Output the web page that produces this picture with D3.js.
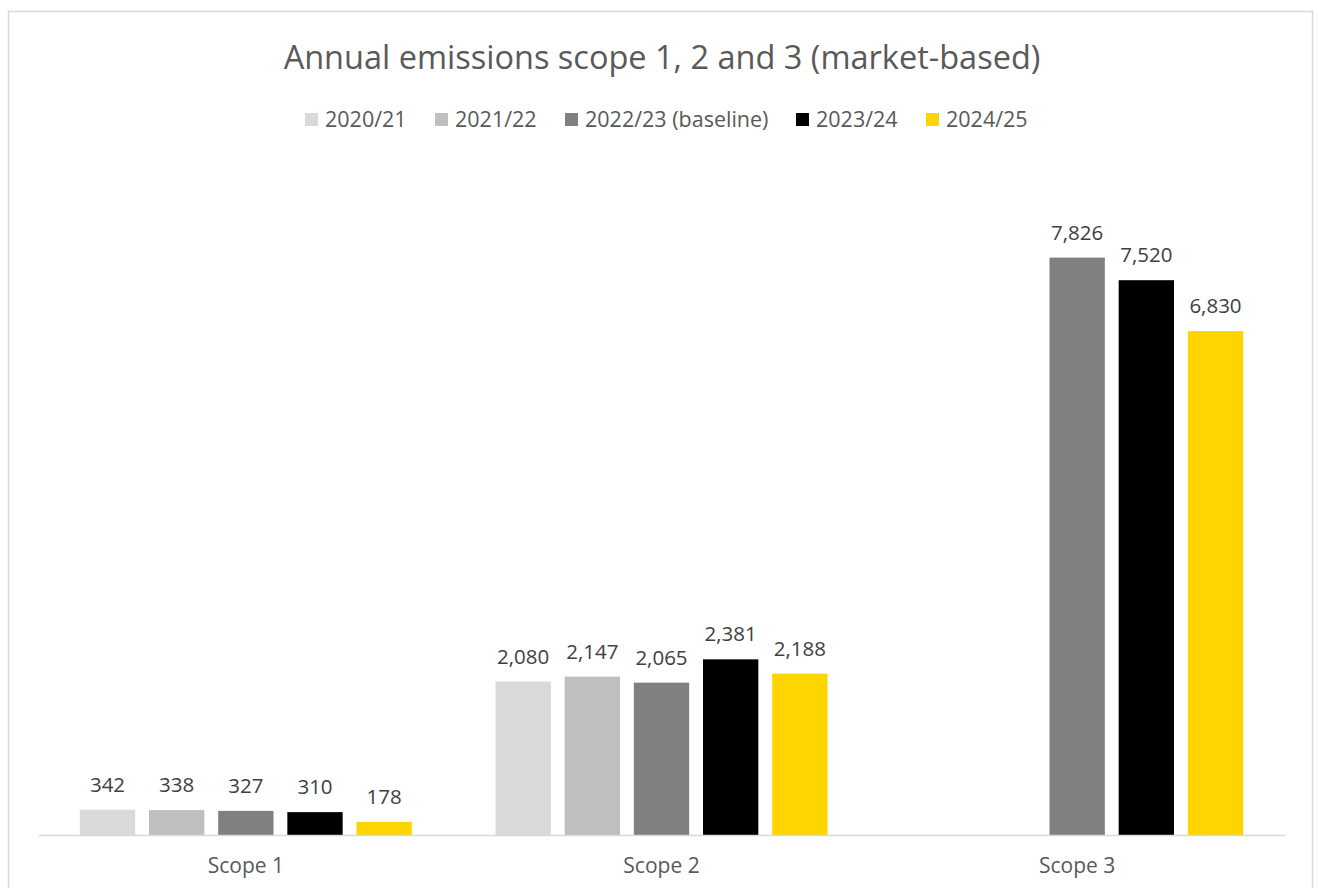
<!DOCTYPE html>
<html>
<head>
<meta charset="utf-8">
<script src="https://cdn.jsdelivr.net/npm/d3@7"></script>
<style>
  body { margin: 0; background: #fff; }
  text { font-family: "Open Sans", "Liberation Sans", sans-serif; }
</style>
</head>
<body>
<div id="fig"></div>
<script>
var categories = ["Scope 1", "Scope 2", "Scope 3"];
var years = ["2020/21", "2021/22", "2022/23 (baseline)", "2023/24", "2024/25"];
var colors = ["#d9d9d9", "#bfbfbf", "#808080", "#000000", "#ffd500"];
// values per year, in category order; null = no bar
var v2020 = [342, 2080, null];
var v2021 = [338, 2147, null];
var v2022 = [327, 2065, 7826];
var v2023 = [310, 2381, 7520];
var v2024 = [178, 2188, 6830];
var series = [v2020, v2021, v2022, v2023, v2024];

var width = 1318, height = 888;
var plotLeft = 38, plotRight = 1285, base = 835, plotTop = 171;

var svg = d3.select("#fig").append("svg")
  .attr("width", width)
  .attr("height", height);

// chart frame
svg.append("rect")
  .attr("x", 8.5).attr("y", 11.5)
  .attr("width", 1304).attr("height", 900)
  .attr("fill", "none")
  .attr("stroke", "#d9d9d9")
  .attr("stroke-width", 1.5);

svg.append("text")
  .attr("x", 662).attr("y", 69)
  .attr("text-anchor", "middle")
  .attr("font-size", 32.5)
  .attr("fill", "#595959")
  .text("Annual emissions scope 1, 2 and 3 (market-based)");

// legend
var legendX = [305, 435, 565, 796, 926];
var leg = svg.append("g").selectAll("g")
  .data(years)
  .enter().append("g")
    .attr("transform", function(d, i) { return "translate(" + legendX[i] + ",113)"; });
leg.append("rect")
  .attr("width", 13).attr("height", 13)
  .attr("fill", function(d, i) { return colors[i]; });
leg.append("text")
  .attr("x", 20).attr("y", 14)
  .attr("font-size", 21.5)
  .attr("fill", "#595959")
  .text(function(d) { return d; });

var x0 = d3.scaleBand().domain(categories).range([plotLeft, plotRight]).paddingInner(0).paddingOuter(0);
var groupW = 332;
var x1 = d3.scaleBand().domain(d3.range(years.length))
  .range([(x0.bandwidth() - groupW) / 2, (x0.bandwidth() + groupW) / 2])
  .paddingInner(0.2);
var y = d3.scaleLinear().domain([0, 9000]).range([base, plotTop]);

var bars = [];
series.forEach(function(vals, si) {
  vals.forEach(function(v, ci) {
    if (v != null) bars.push({s: si, c: categories[ci], v: v});
  });
});

var g = svg.append("g");
g.selectAll("rect")
  .data(bars)
  .enter().append("rect")
    .attr("x", function(d) { return x0(d.c) + x1(d.s); })
    .attr("y", function(d) { return y(d.v); })
    .attr("width", x1.bandwidth())
    .attr("height", function(d) { return base - y(d.v); })
    .attr("fill", function(d) { return colors[d.s]; });

g.selectAll("text")
  .data(bars)
  .enter().append("text")
    .attr("x", function(d) { return x0(d.c) + x1(d.s) + x1.bandwidth() / 2; })
    .attr("y", function(d) { return y(d.v) - 18; })
    .attr("text-anchor", "middle")
    .attr("font-size", 20.5)
    .attr("fill", "#404040")
    .text(function(d) { return d3.format(",")(d.v); });

// category axis
var axis = svg.append("g")
  .attr("transform", "translate(0," + base + ")")
  .call(d3.axisBottom(x0).tickSize(0).tickPadding(23));
axis.select(".domain").attr("stroke", "#d9d9d9").attr("stroke-width", 1.5);
axis.selectAll("text")
  .attr("font-size", 21)
  .attr("fill", "#595959")
  .attr("font-family", "Open Sans, Liberation Sans, sans-serif");
</script>
</body>
</html>
